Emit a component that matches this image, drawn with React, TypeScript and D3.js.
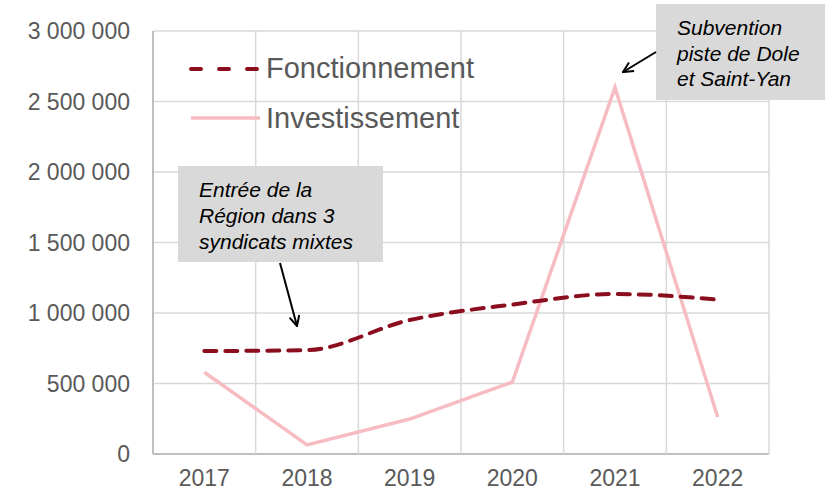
import React from "react";
import * as d3 from "d3";

const years = ["2017", "2018", "2019", "2020", "2021", "2022"];
const fonctionnement = [730000, 737000, 950000, 1060000, 1135000, 1095000];
const investissement = [580000, 64000, 248000, 510000, 2600000, 262000];
const yTicks = [0, 500000, 1000000, 1500000, 2000000, 2500000, 3000000];
const annot1 = ["Entrée de la", "Région dans 3", "syndicats mixtes"];
const annot2 = ["Subvention", "piste de Dole", "et Saint-Yan"];

const W = 825, H = 492;
const L = 153, R = 769, T = 31, B = 454;
const font = "'Liberation Sans', Arial, sans-serif";

export default function App() {
  const x = d3.scaleBand<string>().domain(years).range([L, R]);
  const y = d3.scaleLinear().domain([0, 3000000]).range([B, T]);
  const fmt = (v: number) => d3.format(",")(v).replace(/,/g, " ");
  const cx = (yr: string) => (x(yr) as number) + x.bandwidth() / 2;

  const lineF = d3.line<number>().x((_, i) => cx(years[i])).y(d => y(d)).curve(d3.curveMonotoneX);
  const lineI = d3.line<number>().x((_, i) => cx(years[i])).y(d => y(d));

  const grid = "#d9d9d9";
  return (
    <svg width={W} height={H} style={{ position: "absolute", left: 0, top: 0, background: "#fff" }}>
      <defs>
        <marker id="arr" viewBox="0 0 12 12" refX="11" refY="6" markerWidth="12" markerHeight="12" markerUnits="userSpaceOnUse" orient="auto">
          <path d="M1,1 L11,6 L1,11" fill="none" stroke="#000" strokeWidth={2} />
        </marker>
      </defs>
      {yTicks.map(t => (
        <g key={t}>
          <line x1={L} x2={R} y1={y(t)} y2={y(t)} stroke={t === 0 ? "#bfbfbf" : grid} strokeWidth={t === 0 ? 2 : 1.5} />
          <text x={130} y={y(t)} dy="0.35em" textAnchor="end" fontFamily={font} fontSize={23} fill="#595959">{fmt(t)}</text>
        </g>
      ))}
      {years.map((yr, i) => (
        <line key={yr} x1={x(yr) as number} x2={x(yr) as number} y1={T} y2={B} stroke={i === 0 ? "#bfbfbf" : grid} strokeWidth={i === 0 ? 2 : 1.5} />
      ))}
      <line x1={R} x2={R} y1={T} y2={B} stroke={grid} strokeWidth={1.5} />
      {years.map(yr => (
        <text key={yr} x={cx(yr)} y={486} textAnchor="middle" fontFamily={font} fontSize={23} fill="#595959">{yr}</text>
      ))}
      <path d={lineI(investissement) || ""} fill="none" stroke="#f7bcc1" strokeWidth={3.5} />
      <path d={lineF(fonctionnement) || ""} fill="none" stroke="#8b0e1e" strokeWidth={4} strokeDasharray="12 9" strokeLinecap="round" />

      {/* legend */}
      <line x1={191} x2={260} y1={69} y2={69} stroke="#8b0e1e" strokeWidth={4} strokeDasharray="10 18" strokeLinecap="round" />
      <text x={266} y={68} dy="0.35em" fontFamily={font} fontSize={29} fill="#595959">Fonctionnement</text>
      <line x1={191} x2={260} y1={118} y2={118} stroke="#f7bcc1" strokeWidth={3.5} />
      <text x={266} y={118} dy="0.35em" fontFamily={font} fontSize={29} fill="#595959">Investissement</text>

      {/* annotation 1 */}
      <rect x={178} y={166} width={205} height={96} fill="#d9d9d9" />
      {annot1.map((s, i) => (
        <text key={s} x={199} y={197 + i * 26} fontFamily={font} fontStyle="italic" fontSize={21} fill="#000">{s}</text>
      ))}
      <line x1={280} y1={263} x2={297} y2={326} stroke="#000" strokeWidth={2} markerEnd="url(#arr)" />

      {/* annotation 2 */}
      <rect x={656} y={4} width={169} height={96} fill="#d9d9d9" />
      {annot2.map((s, i) => (
        <text key={s} x={677} y={35 + i * 25.5} fontFamily={font} fontStyle="italic" fontSize={21} fill="#000">{s}</text>
      ))}
      <line x1={656} y1={52} x2={623} y2={72} stroke="#000" strokeWidth={2} markerEnd="url(#arr)" />
    </svg>
  );
}
